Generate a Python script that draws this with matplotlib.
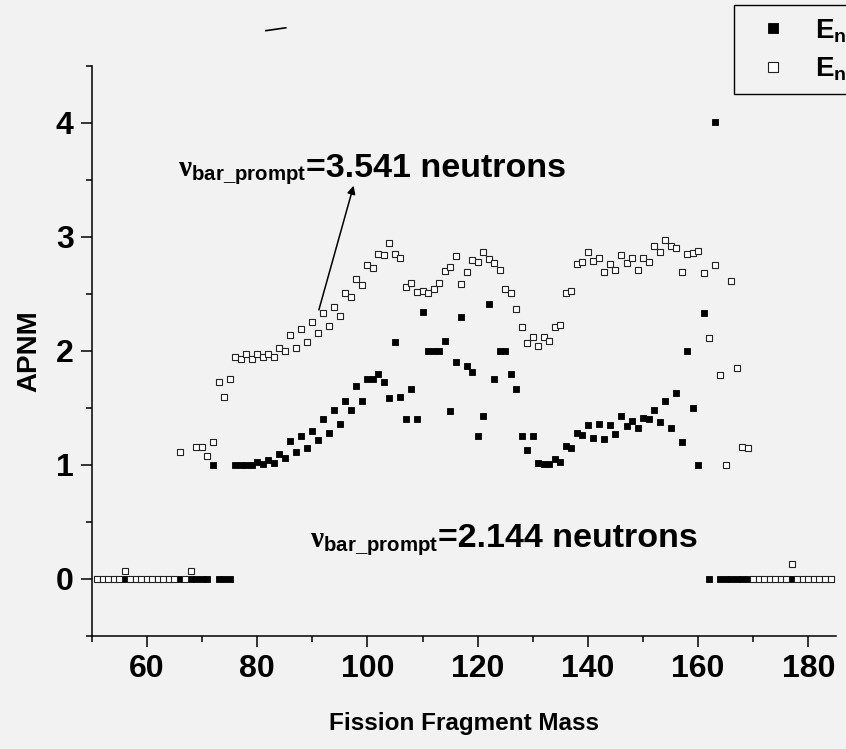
import matplotlib
matplotlib.use("Agg")
from matplotlib import pyplot as plt

# fragment masses 51..184
mass = list(range(51, 185))

# filled squares (first data set)
apnm_a = [0, 0, 0, 0, 0, 0, 0, 0, 0, 0,
          0, 0, 0, 0, 0, 0, 0, 0, 0, 0,
          0, 1.00, 0, 0, 0, 1.00, 1.00, 1.00, 1.00,
          1.03, 1.01, 1.04, 1.02, 1.10, 1.06, 1.21, 1.11, 1.25, 1.15,
          1.30, 1.22, 1.40, 1.28, 1.48, 1.36, 1.56, 1.48, 1.69, 1.56,
          1.75, 1.75, 1.80, 1.73, 1.59, 2.08, 1.60, 1.40, 1.67, 1.40,
          2.34, 2.00, 2.00, 2.00, 2.09, 1.47, 1.90, 2.30, 1.87, 1.82,
          1.25, 1.43, 2.41, 1.75, 2.00, 2.00, 1.80, 1.67, 1.25, 1.13,
          1.25, 1.02, 1.01, 1.01, 1.05, 1.03, 1.17, 1.15, 1.28, 1.26,
          1.35, 1.24, 1.36, 1.23, 1.35, 1.27, 1.43, 1.34, 1.39, 1.32,
          1.41, 1.40, 1.48, 1.38, 1.56, 1.32, 1.63, 1.20, 2.00, 1.50,
          1.00, 2.33, 0, 4.01, 0, 0, 0, 0, 0, 0,
          0, 0, 0, 0, 0, 0, 0, 0, 0, 0, 0, 0, 0, 0, 0]

# open squares (second data set)
apnm_b = [0, 0, 0, 0, 0, 0.07, 0, 0, 0, 0,
          0, 0, 0, 0, 0, 1.11, 0, 0.07, 1.16, 1.16,
          1.08, 1.20, 1.73, 1.60, 1.75, 1.95, 1.93, 1.975, 1.93, 1.97,
          1.95, 1.975, 1.95, 2.03, 2.00, 2.14, 2.03, 2.19, 2.08, 2.25,
          2.16, 2.33, 2.22, 2.39, 2.31, 2.51, 2.47, 2.63, 2.58, 2.75,
          2.73, 2.85, 2.84, 2.95, 2.85, 2.82, 2.56, 2.60, 2.52, 2.53,
          2.51, 2.54, 2.60, 2.70, 2.74, 2.83, 2.59, 2.69, 2.80, 2.78,
          2.87, 2.81, 2.77, 2.71, 2.54, 2.51, 2.37, 2.21, 2.07, 2.12,
          2.04, 2.12, 2.09, 2.21, 2.23, 2.51, 2.53, 2.76, 2.78, 2.87,
          2.79, 2.82, 2.69, 2.76, 2.71, 2.84, 2.77, 2.82, 2.71, 2.82,
          2.78, 2.92, 2.87, 2.97, 2.92, 2.90, 2.69, 2.85, 2.86, 2.88,
          2.68, 2.11, 2.75, 1.79, 1.00, 2.61, 1.85, 1.16, 1.15, 0,
          0, 0, 0, 0, 0, 0, 0.13, 0, 0, 0,
          0, 0, 0, 0]

legend_labels = ["E$_\\mathbf{n}$=thermal", "E$_\\mathbf{n}$=14 MeV"]
nu_high = "3.541"
nu_low = "2.144"

bg = "#f2f2f2"
plt.rcParams["font.family"] = ["Liberation Sans", "DejaVu Sans"]
plt.rcParams["font.weight"] = "bold"
plt.rcParams["mathtext.fontset"] = "custom"
plt.rcParams["mathtext.rm"] = "Liberation Serif"
plt.rcParams["mathtext.bf"] = "Liberation Sans:bold"
plt.rcParams["mathtext.default"] = "bf"

fig = plt.figure(figsize=(8.46, 7.49), dpi=100, facecolor=bg)
ax = fig.add_axes([0.1084, 0.1509, 0.8798, 0.761], facecolor=bg)

ax.plot(mass, apnm_a, ls="none", marker="s", ms=5.0, mfc="black", mec="black",
        mew=0.6, label=legend_labels[0], clip_on=False)
ax.plot(mass, apnm_b, ls="none", marker="s", ms=5.0, mfc="white", mec="#222222",
        mew=0.8, label=legend_labels[1], clip_on=False)

ax.set_xlim(50, 185)
ax.set_ylim(-0.5, 4.5)
ax.set_xticks([60, 80, 100, 120, 140, 160, 180])
ax.set_xticks([50, 70, 90, 110, 130, 150, 170], minor=True)
ax.set_yticks([0, 1, 2, 3, 4])
ax.set_yticks([-0.5, 0.5, 1.5, 2.5, 3.5, 4.5], minor=True)
ax.tick_params(which="major", length=8, width=1.1, labelsize=23, pad=5)
ax.tick_params(which="minor", length=4.5, width=1.1)
for lab in ax.get_xticklabels() + ax.get_yticklabels():
    lab.set_fontweight("bold")

ax.spines["top"].set_visible(False)
ax.spines["right"].set_visible(False)
ax.spines["left"].set_linewidth(1.1)
ax.spines["bottom"].set_linewidth(1.1)

ax.set_xlabel("Fission Fragment Mass", fontsize=17.5, fontweight="bold", labelpad=20)
ax.set_ylabel("APNM", fontsize=20, fontweight="bold", labelpad=10)


def nu_label(x, y, value):
    # nu with subscript, then the main text placed right after it
    t1 = ax.text(x, y, "$\\mathrm{\\nu}_{\\mathbf{bar\\_prompt}}$", fontsize=21,
                 va="baseline", ha="left")
    fig.canvas.draw()
    bb = t1.get_window_extent()
    xd = ax.transData.inverted().transform((bb.x1, 0))[0]
    ax.text(xd, y, "=" + value + " neutrons", fontsize=24.5, fontweight="bold",
            va="baseline", ha="left")


nu_label(65.6, 3.53, nu_high)
nu_label(89.6, 0.28, nu_low)
ax.annotate("", xy=(97.5, 3.45), xytext=(91.2, 2.36),
            arrowprops=dict(arrowstyle="-|>", color="black", lw=1.1,
                            mutation_scale=12, shrinkA=0, shrinkB=0))

# stray short line above the plot
ax.plot([81.6, 85.2], [4.81, 4.835], color="black", lw=1.2, clip_on=False)

leg = ax.legend(loc="upper left", bbox_to_anchor=(0.8676, 0.9933),
                bbox_transform=fig.transFigure, borderaxespad=0, fontsize=20,
                markerscale=1.5, frameon=True, fancybox=False, edgecolor="black",
                facecolor=bg, framealpha=1, handletextpad=0.5, labelspacing=0.4,
                borderpad=0.4, handlelength=2.0)
leg.get_frame().set_linewidth(1.0)

fig.savefig("out.png", dpi=100, facecolor=bg)
